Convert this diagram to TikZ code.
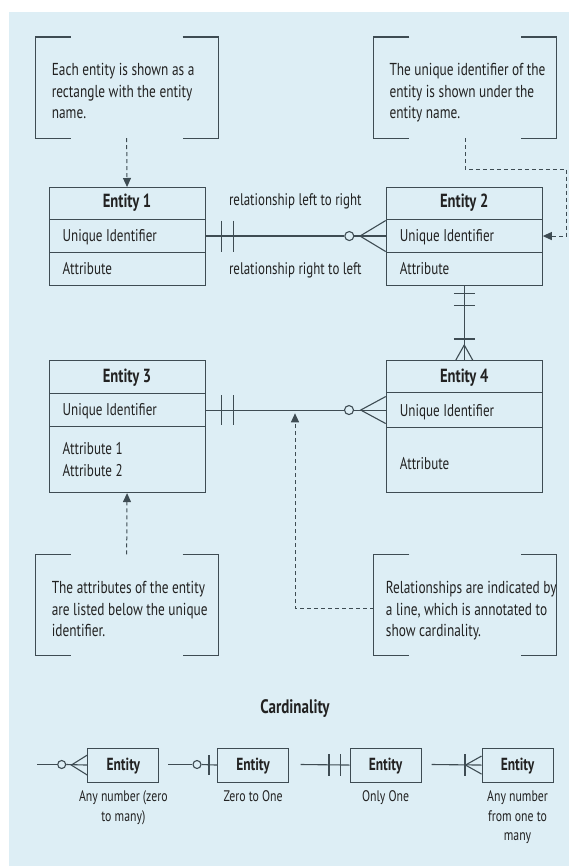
\documentclass[tikz,border=0pt]{standalone}
\usepackage{fontspec}
\setmainfont[FakeStretch=0.77]{PT Sans}
\usetikzlibrary{arrows.meta,calc}
\definecolor{bg}{HTML}{DDEEF5}
\definecolor{lc}{HTML}{3E4C53}
\definecolor{tc}{HTML}{222222}
\begin{document}
\begin{tikzpicture}[x=1pt,y=-1pt,
  ln/.style={draw=lc, line width=1.1pt},
  dsh/.style={draw=lc, line width=1pt, dash pattern=on 4pt off 3pt, -{Triangle[length=9pt,width=8pt]}},
  cell/.style={draw=lc, line width=1.1pt, anchor=north west, inner sep=0pt, minimum width=156pt, minimum height=#1},
  hdr/.style={anchor=base, inner sep=0pt, text=tc, font=\fontsize{19}{22}\selectfont\bfseries},
  rowt/.style={anchor=base west, inner sep=0pt, text=tc, font=\fontsize{17}{21.5}\selectfont},
  note/.style={anchor=north west, inner sep=0pt, minimum width=182.5pt, minimum height=100.7pt},
  notet/.style={anchor=north west, inner sep=0pt, align=left, text=tc, font=\fontsize{17.3}{21.6}\selectfont},
  relt/.style={anchor=base, inner sep=0pt, text=tc, font=\fontsize{16.8}{21.5}\selectfont},
  circ/.style={circle, draw=lc, line width=1.1pt, fill=bg, minimum size=#1, inner sep=0pt},
  cbox/.style={draw=lc, line width=1.1pt, anchor=north west, inner sep=0pt, minimum width=71pt, minimum height=34pt},
  cboxt/.style={anchor=base, inner sep=0pt, text=tc, font=\fontsize{17.5}{20}\selectfont\bfseries},
  clab/.style={anchor=north, inner sep=0pt, align=center, text=tc, font=\fontsize{15.3}{19.5}\selectfont},
  ttl/.style={anchor=base, inner sep=0pt, text=tc, font=\fontsize{19.5}{22}\selectfont\bfseries}
]
\useasboundingbox (0,0) rectangle (569,866);
\fill[bg] (9,12) rectangle (569,866);

% note boxes
\node[note] (n1) at (35.2,37) {};
\node[note] (n2) at (373.7,37) {};
\node[note] (n3) at (35.2,554.3) {};
\node[note] (n4) at (373.7,554.3) {};
\foreach \n in {n1,n2,n3,n4}{
  \draw[ln] ([xshift=35.6pt]\n.north west) -- (\n.north west) -- (\n.south west) -- ([xshift=35.6pt]\n.south west);
  \draw[ln] ([xshift=-35.6pt]\n.north east) -- (\n.north east) -- (\n.south east) -- ([xshift=-35.6pt]\n.south east);
}
\node[notet] (n1t) at (51.6,63.3) {Each entity is shown as a\\rectangle with the entity\\name.};
\node[notet] (n2t) at (389.3,63.3) {The unique identifier of the\\entity is shown under the\\entity name.};
\node[notet] (n3t) at (51.6,581) {The attributes of the entity\\are listed below the unique\\identifier.};
\node[notet] (n4t) at (385.7,581) {Relationships are indicated by\\a line, which is annotated to\\show cardinality.};

% entity 1
\node[cell=32pt] (e1h) at (48.5,187) {};
\node[cell=33pt] (e1u) at (48.5,219) {};
\node[cell=33pt] (e1a) at (48.5,252) {};
\node[hdr] (e1ht) at ([yshift=-21pt]e1h.north) {Entity 1};
\node[rowt] (e1ut) at ([xshift=14pt,yshift=-22.5pt]e1u.north west) {Unique Identifier};
\node[rowt] (e1at) at ([xshift=14pt,yshift=-22.5pt]e1a.north west) {Attribute};
% entity 2
\node[cell=32pt] (e2h) at (385.7,187) {};
\node[cell=33pt] (e2u) at (385.7,219) {};
\node[cell=33pt] (e2a) at (385.7,252) {};
\node[hdr] (e2ht) at ([yshift=-21pt]e2h.north) {Entity 2};
\node[rowt] (e2ut) at ([xshift=14pt,yshift=-22.5pt]e2u.north west) {Unique Identifier};
\node[rowt] (e2at) at ([xshift=14pt,yshift=-22.5pt]e2a.north west) {Attribute};
% entity 3
\node[cell=33pt] (e3h) at (48.5,360) {};
\node[cell=33pt] (e3u) at (48.5,393) {};
\node[cell=66pt] (e3a) at (48.5,426) {};
\node[hdr] (e3ht) at ([yshift=-22pt]e3h.north) {Entity 3};
\node[rowt] (e3ut) at ([xshift=14pt,yshift=-22pt]e3u.north west) {Unique Identifier};
\node[rowt] (e3at) at ([xshift=14pt,yshift=-28pt]e3a.north west) {Attribute 1};
\node[rowt] (e3bt) at ([xshift=14pt,yshift=-50pt]e3a.north west) {Attribute 2};
% entity 4
\node[cell=32pt] (e4h) at (385.7,360) {};
\node[cell=35pt] (e4u) at (385.7,392) {};
\node[cell=65pt] (e4a) at (385.7,427) {};
\node[hdr] (e4ht) at ([yshift=-22pt]e4h.north) {Entity 4};
\node[rowt] (e4ut) at ([xshift=14pt,yshift=-24pt]e4u.north west) {Unique Identifier};
\node[rowt] (e4at) at ([xshift=14pt,yshift=-42pt]e4a.north west) {Attribute};

% relationship 1 (E1 - E2)
\node[relt] (r1a) at (295.3,206) {relationship left to right};
\node[relt] (r1b) at (295.3,274) {relationship right to left};
\node[circ=9pt] (c1) at ([xshift=-36.4pt]e2u.west) {};
\draw[ln] (e1u.east) -- (c1.west);
\draw[ln] (c1.east) -- (e2u.west);
\draw[ln] ([xshift=16.2pt]e1u.east) ++(0,-15.5) -- ++(0,31);
\draw[ln] ([xshift=28.2pt]e1u.east) ++(0,-15.5) -- ++(0,31);
\draw[ln] ([yshift=15.5pt]e2u.west) -- ([xshift=-25.7pt]e2u.west) -- ([yshift=-15.5pt]e2u.west);

% relationship 2 (E3 - E4)
\node[circ=9pt] (c2) at ([xshift=-36.7pt]e4u.west) {};
\draw[ln] (e3u.east) -- (c2.west);
\draw[ln] (c2.east) -- (e4u.west);
\draw[ln] ([xshift=16pt]e3u.east) ++(0,-15) -- ++(0,30);
\draw[ln] ([xshift=28pt]e3u.east) ++(0,-15) -- ++(0,30);
\draw[ln] ([yshift=13.5pt]e4u.west) -- ([xshift=-25pt]e4u.west) -- ([yshift=-13.5pt]e4u.west);

% relationship 3 (E2 - E4)
\draw[ln] (e2a.south) -- (e4h.north);
\draw[ln] ([yshift=-7pt]e2a.south) ++(-10.3,0) -- ++(20.6,0);
\draw[ln] ([yshift=-19pt]e2a.south) ++(-10.3,0) -- ++(20.6,0);
\draw[ln] ([yshift=21pt]e4h.north) ++(-10.3,0) -- ++(20.6,0);
\draw[ln] ([xshift=-8.4pt]e4h.north) -- ([yshift=15pt]e4h.north) -- ([xshift=8.4pt]e4h.north);

% dashed callouts
\draw[dsh] (n1.south) -- (e1h.north);
\coordinate (k1) at (566.7,169.3);
\draw[dsh] (n2.south) |- (k1) |- (e2u.east);
\draw[dsh] (n3.north) -- (e3a.south);
\coordinate (k2) at (295,608.3);
\coordinate (k3) at (295,413.3);
\draw[dsh] (n4.west |- k2) -- (k2) -- (k3);

% cardinality
\node[ttl] (ct) at (295,713.3) {Cardinality};
\node[cbox] (ca) at (87.3,747.5) {};
\node[cbox] (cb) at (217,747.5) {};
\node[cbox] (cc) at (349.5,747.5) {};
\node[cbox] (cd) at (481.5,747.5) {};
\foreach \b in {ca,cb,cc,cd}{
  \node[cboxt] (\b t) at ([yshift=-23pt]\b.north) {Entity};
}
\node[clab] (la) at ([yshift=-8.2pt]ca.south) {Any number (zero\\to many)};
\node[clab] (lb) at ([yshift=-8.2pt]cb.south) {Zero to One};
\node[clab] (lc) at ([yshift=-8.2pt]cc.south) {Only One};
\node[clab] (ld) at ([yshift=-8.2pt]cd.south) {Any number\\from one to\\many};

% symbol a: zero or many
\coordinate (sa) at (37.3,764.5);
\node[circ=8pt] (ca0) at (61.7,764.5) {};
\draw[ln] (sa) -- (ca0.west);
\draw[ln] (ca0.east) -- (ca.west);
\draw[ln] ([yshift=10pt]ca.west) -- ([xshift=-16pt]ca.west) -- ([yshift=-10pt]ca.west);
% symbol b: zero or one
\coordinate (sb) at (168.3,764.5);
\node[circ=8pt] (cb0) at (197,764.5) {};
\draw[ln] (sb) -- (cb0.west);
\draw[ln] (cb0.east) -- (cb.west);
\draw[ln] ([xshift=-8pt]cb.west) ++(0,-10) -- ++(0,20);
% symbol c: only one
\coordinate (sc) at (300.7,764.5);
\draw[ln] (sc) -- (cc.west);
\draw[ln] ([xshift=-20.5pt]cc.west) ++(0,-11) -- ++(0,22);
\draw[ln] ([xshift=-8.8pt]cc.west) ++(0,-11) -- ++(0,22);
% symbol d: one or many
\coordinate (sd) at (431.7,764.5);
\draw[ln] (sd) -- (cd.west);
\draw[ln] ([xshift=-16.5pt]cd.west) ++(0,-11) -- ++(0,22);
\draw[ln] ([yshift=9pt]cd.west) -- ([xshift=-16pt]cd.west) -- ([yshift=-9pt]cd.west);
\end{tikzpicture}
\end{document}
